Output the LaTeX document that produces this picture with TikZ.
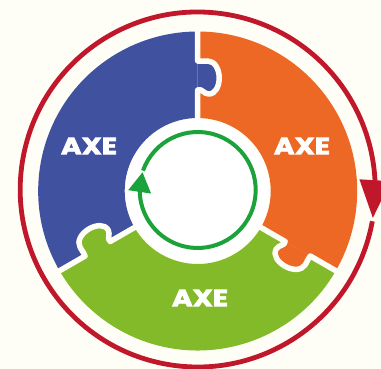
\documentclass[tikz,border=0pt]{standalone}
\usepackage{fontspec}
\newfontfamily\axefont{Poppins}[BoldFeatures={FakeBold=2.5}]
\usetikzlibrary{arrows.meta,bending}
\definecolor{bgc}{RGB}{254,254,246}
\definecolor{bluec}{RGB}{63,81,159}
\definecolor{orangec}{RGB}{236,104,36}
\definecolor{greenc}{RGB}{130,186,42}
\definecolor{redc}{RGB}{192,23,43}
\definecolor{arrowg}{RGB}{28,162,58}
\tikzset{
  gapline/.style={draw=bgc,line width=5.5pt,line join=round,line cap=butt},
  axetext/.style={text=white,font=\axefont\bfseries\fontsize{23.5}{25}\selectfont,inner sep=0pt},
}
\newcommand{\knobpath}{(101pt,0pt) .. controls (103pt,-4pt) and (97pt,-6pt) .. (97pt,-11pt) .. controls (97pt,-18pt) and (105pt,-21.5pt) .. (113pt,-21.5pt) .. controls (122pt,-21.5pt) and (130pt,-17pt) .. (130pt,-10pt) .. controls (130pt,-5pt) and (129.5pt,-2pt) .. (130pt,0pt)}
\begin{document}
\begin{tikzpicture}
\fill[bgc] (-197.7pt,-178pt) rectangle (183.3pt,191pt);
\useasboundingbox (-197.7pt,-178pt) rectangle (183.3pt,191pt);
% sectors
\fill[bluec] (90:73pt) arc[start angle=90,end angle=210,radius=73pt] -- (210:159.5pt) arc[start angle=210,end angle=90,radius=159.5pt] -- cycle;
\fill[greenc] (210:73pt) arc[start angle=210,end angle=330,radius=73pt] -- (330:159.5pt) arc[start angle=330,end angle=210,radius=159.5pt] -- cycle;
\fill[orangec] (330:73pt) arc[start angle=330,end angle=450,radius=73pt] -- (450:159.5pt) arc[start angle=450,end angle=330,radius=159.5pt] -- cycle;
% knobs
\fill[bluec,rotate=90] \knobpath -- cycle;
\fill[greenc,rotate=210] \knobpath -- cycle;
\fill[orangec,rotate=330] \knobpath -- cycle;
% gaps
\draw[gapline,rotate=90] (72pt,0pt) -- \knobpath -- (162pt,0pt);
\draw[gapline,rotate=210] (72pt,0pt) -- \knobpath -- (162pt,0pt);
\draw[gapline,rotate=330] (72pt,0pt) -- \knobpath -- (162pt,0pt);
% inner disk
\fill[white] (0,0) circle[radius=71pt];
% labels
\node[axetext] (t1) at (-108.7pt,45pt) {\scalebox{1.2}[1]{AXE}};
\node[axetext] (t2) at (104.3pt,45pt) {\scalebox{1.2}[1]{AXE}};
\node[axetext] (t3) at (2.3pt,-107pt) {\scalebox{1.2}[1]{AXE}};
% red cycle arrow
\coordinate (rc) at (0pt,1.5pt);
\draw[redc,line width=4.8pt,-{Triangle[width=30pt,length=38pt,flex]}] ([shift={(-10.3:177.5pt)}]rc) arc[start angle=-10.3,end angle=-369.3,radius=177.5pt];
% green cycle arrow
\coordinate (gc) at (0pt,1pt);
\draw[arrowg,line width=4pt,-{Triangle[width=22pt,length=20pt,flex]}] ([shift={(160.5:58pt)}]gc) arc[start angle=160.5,end angle=-198,radius=58pt];
\end{tikzpicture}
\end{document}
